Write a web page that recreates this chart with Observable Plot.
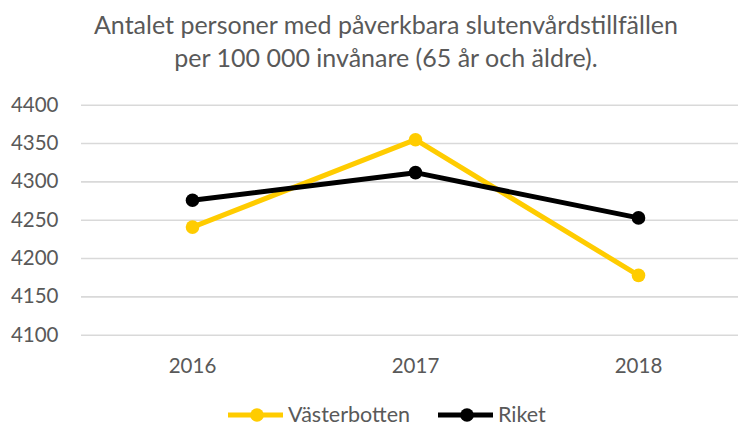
<!DOCTYPE html>
<html><head><meta charset="utf-8">
<script src="https://cdn.jsdelivr.net/npm/d3@7"></script>
<script src="https://cdn.jsdelivr.net/npm/@observablehq/plot@0.6"></script>
<style>
html,body{margin:0;padding:0;background:#fff;}
body{width:738px;height:428px;font-family:Lato,"Open Sans",sans-serif;color:#595959;position:relative;}
#title{width:738px;height:90px;box-sizing:border-box;padding-top:8px;text-align:center;font-size:25px;line-height:33px;margin-left:17px;}
#chart{height:300px;}
#chart svg{display:block;}
#legend{position:absolute;left:228px;top:403px;display:flex;align-items:center;font-size:21.5px;line-height:23px;}
.item{display:flex;align-items:center;margin-right:28px;}
.item svg{display:block;margin-right:5px;}
</style></head>
<body>
<div id="title">Antalet personer med påverkbara slutenvårdstillfällen<br>per 100 000 invånare (65 år och äldre).</div>
<div id="chart"></div>
<div id="legend"></div>
<script>
const years = ["2016", "2017", "2018"];
const vasterbotten = [4241, 4355, 4178];
const riket = [4276, 4312, 4253];
const yTicks = [4100, 4150, 4200, 4250, 4300, 4350, 4400];
const seriesNames = ["Västerbotten", "Riket"];
const seriesColors = ["#FFCC00", "#000000"];

const data = [
  ...years.map((y, i) => ({year: y, value: vasterbotten[i], series: seriesNames[0]})),
  ...years.map((y, i) => ({year: y, value: riket[i], series: seriesNames[1]}))
];

const chart = Plot.plot({
  width: 738,
  height: 300,
  marginLeft: 81,
  marginRight: 0,
  marginTop: 14.7,
  marginBottom: 55.3,
  style: {fontFamily: "Lato, 'Open Sans', sans-serif", fontSize: "20px", color: "#595959", background: "#fff"},
  x: {type: "point", domain: years, range: [191.7, 638.3], padding: 0, label: null},
  y: {domain: [4100, 4400], ticks: yTicks, label: null},
  color: {domain: seriesNames, range: seriesColors},
  marks: [
    Plot.ruleY(yTicks, {stroke: "#d9d9d9", strokeWidth: 1.6}),
    Plot.axisY({ticks: yTicks, tickFormat: d => String(d), tickSize: 0, tickPadding: 23, fontSize: 20.5, fill: "#595959", label: null}),
    Plot.axisX({tickSize: 0, tickPadding: 23, fontSize: 20.5, fill: "#595959", label: null}),
    Plot.line(data, {x: "year", y: "value", z: "series", stroke: "series", strokeWidth: 5, strokeLinejoin: "round"}),
    Plot.dot(data, {x: "year", y: "value", fill: "series", r: 6.8, stroke: null})
  ]
});
document.getElementById("chart").appendChild(chart);

const legend = document.getElementById("legend");
seriesNames.forEach((name, i) => {
  const item = document.createElement("div");
  item.className = "item";
  item.innerHTML = `<svg width="55" height="16"><line x1="0" y1="8" x2="55" y2="8" stroke="${seriesColors[i]}" stroke-width="5"/><circle cx="29" cy="8" r="6.8" fill="${seriesColors[i]}"/></svg><span>${name}</span>`;
  legend.appendChild(item);
});
</script>
</body></html>
